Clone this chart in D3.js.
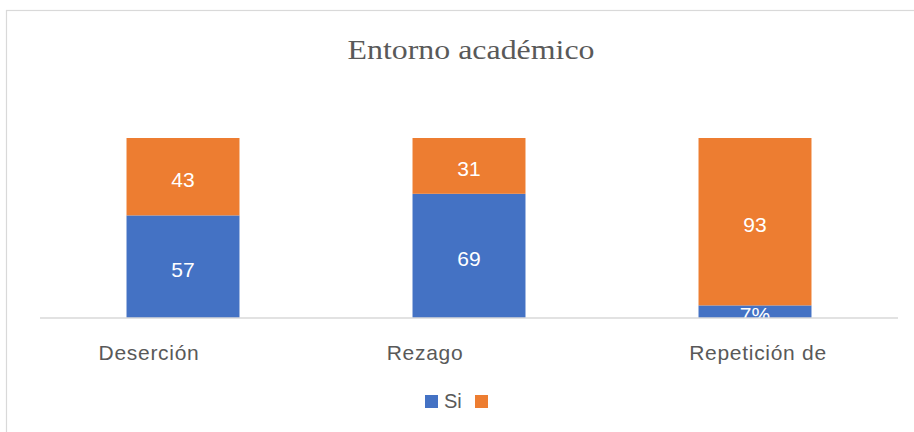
<!DOCTYPE html>
<html>
<head>
<meta charset="utf-8">
<script src="https://cdn.jsdelivr.net/npm/d3@7/dist/d3.min.js"></script>
<style>
  body { margin: 0; background: #fff; }
  svg { display: block; }
</style>
</head>
<body>
<div id="chart"></div>
<script>
const categories = ["Deserción", "Rezago", "Repetición de"];
const seriesNames = ["Si", ""];
const siValues = [57, 69, 7];
const otherValues = [43, 31, 93];
const siLabels = ["57", "69", "7%"];
const otherLabels = ["43", "31", "93"];
// the category labels sit a bit off the bar centres in the original
const labelShift = [-34, -44, 3];

const width = 914;
const height = 432;
const colors = ["#4472C4", "#ED7D31"];

const svg = d3.select("#chart")
  .append("svg")
  .attr("width", width)
  .attr("height", height);

// chart frame (cut off right and bottom)
svg.append("rect")
  .attr("x", 6.5)
  .attr("y", 10.5)
  .attr("width", 1200)
  .attr("height", 800)
  .attr("fill", "none")
  .attr("stroke", "#d9d9d9")
  .attr("stroke-width", 1.2);

const x = d3.scaleBand()
  .domain(categories)
  .range([40, 898])
  .paddingInner(0.605)
  .paddingOuter(0.3025);

const y = d3.scaleLinear()
  .domain([0, 100])
  .range([318, 138]);

const rows = categories.map((c, i) => ({ cat: c, si: siValues[i], other: otherValues[i] }));
const stacked = d3.stack().keys(["si", "other"])(rows);
const labelSets = [siLabels, otherLabels];

// title
svg.append("text")
  .attr("x", 471)
  .attr("y", 59)
  .attr("text-anchor", "middle")
  .attr("textLength", 247)
  .attr("lengthAdjust", "spacingAndGlyphs")
  .style("font-family", "'Liberation Serif', 'Times New Roman', serif")
  .style("font-size", "27px")
  .style("fill", "#595959")
  .text("Entorno académico");

const layers = svg.selectAll(".layer")
  .data(stacked)
  .enter()
  .append("g")
  .attr("class", "layer")
  .attr("fill", (d, i) => colors[i]);

layers.selectAll("rect")
  .data(d => d)
  .enter()
  .append("rect")
  .attr("x", d => x(d.data.cat))
  .attr("y", d => y(d[1]))
  .attr("width", x.bandwidth())
  .attr("height", d => y(d[0]) - y(d[1]));

// data labels
stacked.forEach((layer, li) => {
  svg.selectAll(".lbl" + li)
    .data(layer)
    .enter()
    .append("text")
    .attr("x", d => x(d.data.cat) + x.bandwidth() / 2)
    .attr("y", d => (y(d[0]) + y(d[1])) / 2 + 10.5)
    .attr("text-anchor", "middle")
    .style("font-family", "'Liberation Sans', Arial, sans-serif")
    .style("font-size", "21px")
    .style("fill", "#fff")
    .text((d, i) => labelSets[li][i]);
});

// axis line
svg.append("line")
  .attr("x1", 40)
  .attr("x2", 898)
  .attr("y1", 318)
  .attr("y2", 318)
  .attr("stroke", "#d9d9d9")
  .attr("stroke-width", 1.5);

// category labels
svg.selectAll(".cat")
  .data(categories)
  .enter()
  .append("text")
  .attr("x", (d, i) => x(d) + x.bandwidth() / 2 + labelShift[i])
  .attr("y", 360)
  .attr("text-anchor", "middle")
  .style("font-family", "'Liberation Sans', Arial, sans-serif")
  .style("font-size", "21px")
  .style("letter-spacing", "0.7px")
  .style("fill", "#595959")
  .text(d => d);

// legend
const legend = svg.append("g");
const legX = [425, 475];
seriesNames.forEach((name, i) => {
  legend.append("rect")
    .attr("x", legX[i])
    .attr("y", 395)
    .attr("width", 13)
    .attr("height", 13)
    .attr("fill", colors[i]);
  legend.append("text")
    .attr("x", legX[i] + 19)
    .attr("y", 408)
    .style("font-family", "'Liberation Sans', Arial, sans-serif")
    .style("font-size", "20px")
    .style("fill", "#595959")
    .text(name);
});
</script>
</body>
</html>
